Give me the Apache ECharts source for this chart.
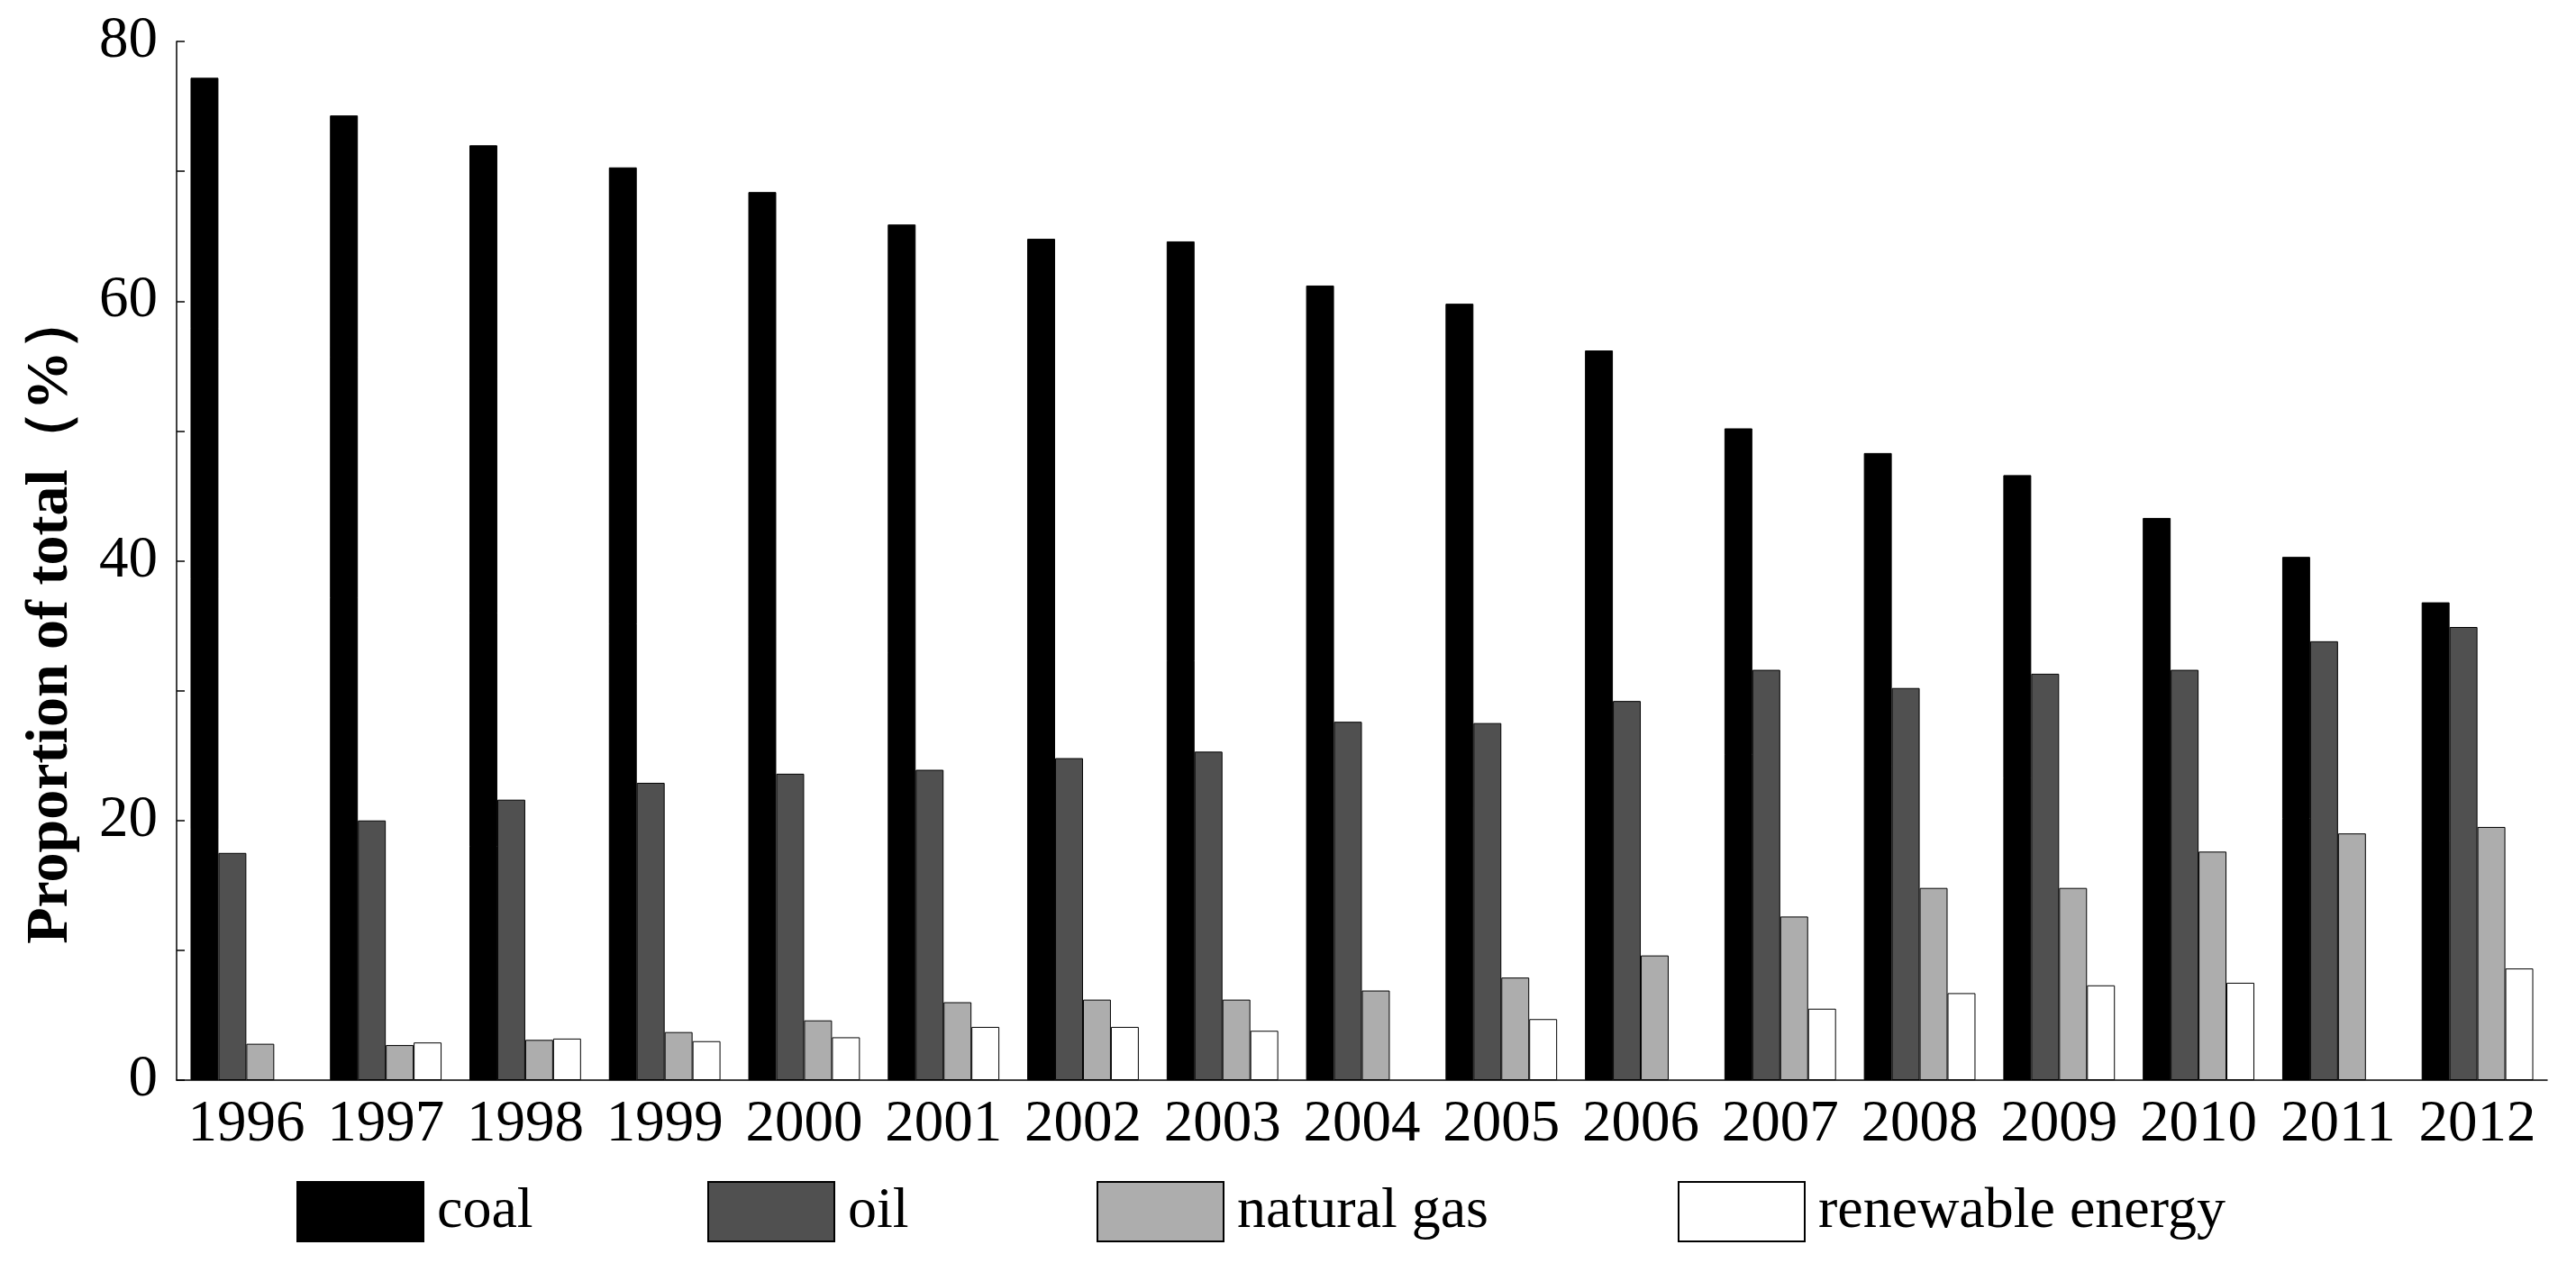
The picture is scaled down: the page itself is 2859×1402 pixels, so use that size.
<!DOCTYPE html>
<html>
<head>
<meta charset="utf-8">
<script src="https://cdn.jsdelivr.net/npm/echarts@6/dist/echarts.min.js"></script>
<style>
html,body{margin:0;padding:0;background:#fff;}
#chart{width:2859px;height:1402px;}
</style>
</head>
<body>
<div id="chart"></div>
<script>
const years = ['1996','1997','1998','1999','2000','2001','2002','2003','2004','2005','2006','2007','2008','2009','2010','2011','2012'];
const coal = [77.2, 74.3, 72.0, 70.3, 68.4, 65.9, 64.8, 64.6, 61.2, 59.8, 56.2, 50.2, 48.3, 46.6, 43.3, 40.3, 36.8];
const oil = [17.5, 20.0, 21.6, 22.9, 23.6, 23.9, 24.8, 25.3, 27.6, 27.5, 29.2, 31.6, 30.2, 31.3, 31.6, 33.8, 34.9];
const gas = [2.8, 2.7, 3.1, 3.7, 4.6, 6.0, 6.2, 6.2, 6.9, 7.9, 9.6, 12.6, 14.8, 14.8, 17.6, 19.0, 19.5];
const renewable = [null, 2.9, 3.2, 3.0, 3.3, 4.1, 4.1, 3.8, null, 4.7, null, 5.5, 6.7, 7.3, 7.5, null, 8.6];
const yTickLabels = [0, 20, 40, 60, 80];
const seriesNames = ['coal', 'oil', 'natural gas', 'renewable energy'];

const FONT = "'Liberation Serif', 'Times New Roman', serif";
const chart = echarts.init(document.getElementById('chart'), null, {renderer: 'canvas'});

function bar(name, data, color) {
  return {
    name: name, type: 'bar', data: data,
    barGap: '0%', barCategoryGap: '20%',
    itemStyle: {color: color, borderColor: '#000', borderWidth: 1},
    emphasis: {disabled: true}
  };
}
const legendLefts = [324, 780, 1212, 1857];
const legends = seriesNames.map((n, i) => ({
  data: [n], left: legendLefts[i], top: 1306, orient: 'horizontal',
  icon: 'rect', itemWidth: 140, itemHeight: 66, itemGap: 0,
  textStyle: {fontFamily: FONT, fontSize: 64, color: '#000', padding: [0, 0, 0, 10]},
  selectedMode: false
}));

chart.setOption({
  animation: false,
  backgroundColor: '#fff',
  grid: {left: 196, right: 32, top: 46, bottom: 203, containLabel: false},
  legend: legends,
  xAxis: {
    type: 'category', data: years, boundaryGap: true,
    axisLine: {show: true, lineStyle: {color: '#000', width: 1.5}},
    axisTick: {show: false},
    axisLabel: {fontFamily: FONT, fontSize: 65, color: '#000', margin: 17, interval: 0}
  },
  yAxis: {
    type: 'value', min: 0, max: 80, interval: 10,
    name: 'Proportion of total（%）', nameLocation: 'middle', nameGap: 106, nameRotate: 90,
    nameTextStyle: {fontFamily: FONT, fontSize: 66, fontWeight: 'bold', color: '#000', padding: [0, 126, 0, 0]},
    axisLine: {show: true, lineStyle: {color: '#000', width: 1.5}},
    axisTick: {show: true, inside: true, length: 9, lineStyle: {color: '#000', width: 1.5}},
    splitLine: {show: false},
    axisLabel: {
      fontFamily: FONT, fontSize: 65, color: '#000', margin: 21,
      formatter: v => yTickLabels.indexOf(v) >= 0 ? String(v) : ''
    }
  },
  series: [
    bar(seriesNames[0], coal, '#000000'),
    bar(seriesNames[1], oil, '#505050'),
    bar(seriesNames[2], gas, '#adadad'),
    bar(seriesNames[3], renewable, '#ffffff')
  ]
});
</script>
</body>
</html>
